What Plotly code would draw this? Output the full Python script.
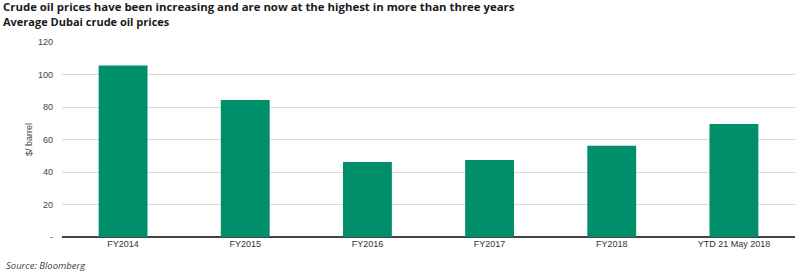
import plotly.graph_objects as go

categories = ["FY2014", "FY2015", "FY2016", "FY2017", "FY2018", "YTD 21 May 2018"]
prices = [105.5, 84.3, 46.2, 47.4, 56.2, 69.6]
tick_vals = [0, 20, 40, 60, 80, 100, 120]
tick_text = ["-", "20", "40", "60", "80", "100", "120"]

W, H = 808, 278
ML, MR, MT, MB = 62, 13, 42, 41
PW, PH = W - ML - MR, H - MT - MB


def px_x(x):
    return (x - ML) / PW


def px_y(y):
    return (H - MB - y) / PH


fig = go.Figure(go.Bar(x=categories, y=prices, marker=dict(color="#008f6b", line=dict(width=0))))

fig.update_layout(
    width=W, height=H,
    margin=dict(l=ML, r=MR, t=MT, b=MB),
    plot_bgcolor="white", paper_bgcolor="white",
    bargap=0.6,
    showlegend=False,
    font=dict(family="Liberation Sans, Arial", size=9, color="#333"),
    annotations=[
        dict(text="<b>Crude oil prices have been increasing and are now at the highest in more than three years</b>",
             x=px_x(1), y=px_y(7), xref="paper", yref="paper", xanchor="left", yanchor="middle", showarrow=False,
             font=dict(family="Open Sans", size=11.4, color="#1a1a1a")),
        dict(text="<b>Average Dubai crude oil prices</b>",
             x=px_x(1), y=px_y(22), xref="paper", yref="paper", xanchor="left", yanchor="middle", showarrow=False,
             font=dict(family="Open Sans", size=11, color="#1a1a1a")),
        dict(text="<i>Source: Bloomberg</i>",
             x=px_x(4), y=px_y(265), xref="paper", yref="paper", xanchor="left", yanchor="middle", showarrow=False,
             font=dict(family="Open Sans", size=9.5, color="#444")),
    ],
)

fig.update_xaxes(showgrid=False, showline=False, ticks="", tickfont=dict(size=9, color="#333"))
fig.update_yaxes(range=[0, 120], tickvals=tick_vals, ticktext=tick_text, showgrid=True,
                 gridcolor="#d9d9d9", gridwidth=1, zeroline=True, zerolinecolor="#444", zerolinewidth=1.5,
                 ticks="", ticklen=0, ticklabelstandoff=8, tickfont=dict(size=9, color="#444"),
                 title=dict(text="$/ barrel", font=dict(size=9, color="#444"), standoff=3))

fig.write_html("out.html")
